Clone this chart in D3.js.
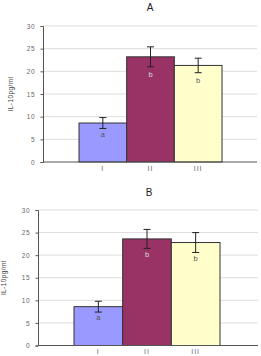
<!DOCTYPE html>
<html>
<head>
<meta charset="utf-8">
<script src="https://cdn.jsdelivr.net/npm/d3@7"></script>
<style>
  body { margin: 0; background: #fff; }
  svg { display: block; font-family: "Liberation Sans", Arial, sans-serif; }
</style>
</head>
<body>
<div id="chart"></div>
<script>
// Data
let groups = ["I", "II", "III"];
let colors = ["#9999ff", "#993366", "#ffffcc"];
let panelTitles = ["A", "B"];
let meansA = [8.6, 23.2, 21.3];
let errA = [1.2, 2.2, 1.6];
let lettersA = ["a", "b", "b"];
let letterPosA = [5.5, 18.7, 17.4];
let meansB = [8.6, 23.6, 22.8];
let errB = [1.2, 2.1, 2.2];
let lettersB = ["a", "b", "b"];
let letterPosB = [5.6, 19.7, 18.8];
let yTicks = [0, 5, 10, 15, 20, 25, 30];
let yLabel = "IL-10pg/ml";

let svg = d3.select("#chart").append("svg")
  .attr("width", 261)
  .attr("height", 356);

// one panel, positioned by its plot box
function drawPanel(p) {
  let g = svg.append("g");
  let x = d3.scaleLinear().domain([0, 3]).range([p.barLeft, p.barRight]);
  let y = d3.scaleLinear().domain([0, 30]).range([p.bottom, p.top]);

  // title
  g.append("text")
    .attr("x", p.titleX).attr("y", p.titleY)
    .attr("text-anchor", "middle")
    .attr("font-size", 10)
    .attr("fill", "#222")
    .text(p.title);

  // gridlines
  g.selectAll(".grid").data(yTicks.slice(1)).enter().append("line")
    .attr("x1", p.left).attr("x2", p.right)
    .attr("y1", d => y(d)).attr("y2", d => y(d))
    .attr("stroke", "#d4d4d4").attr("stroke-width", 0.8);

  // bars
  g.selectAll(".bar").data(p.means).enter().append("rect")
    .attr("x", (d, i) => x(i))
    .attr("y", d => y(d))
    .attr("width", (d, i) => x(i + 1) - x(i))
    .attr("height", d => y(0) - y(d))
    .attr("fill", (d, i) => colors[i])
    .attr("stroke", "#333").attr("stroke-width", 1);

  // error bars
  p.means.forEach((m, i) => {
    let cx = (x(i) + x(i + 1)) / 2;
    let e = p.err[i];
    g.append("line").attr("x1", cx).attr("x2", cx)
      .attr("y1", y(m + e)).attr("y2", y(m - e))
      .attr("stroke", "#222").attr("stroke-width", 1);
    [m + e, m - e].forEach(v => {
      g.append("line").attr("x1", cx - 3.5).attr("x2", cx + 3.5)
        .attr("y1", y(v)).attr("y2", y(v))
        .attr("stroke", "#222").attr("stroke-width", 1);
    });
    g.append("text")
      .attr("x", cx).attr("y", y(p.letterPos[i]))
      .attr("text-anchor", "middle")
      .attr("font-size", 7.5)
      .attr("fill", i === 1 ? "#ddd" : "#555")
      .text(p.letters[i]);
  });

  // axes
  let yAxis = d3.axisLeft(y).tickValues(yTicks).tickSize(2.5).tickPadding(5);
  let ya = g.append("g").attr("transform", "translate(" + p.left + ",0)").call(yAxis);
  ya.select(".domain").attr("stroke", "#555");
  ya.selectAll(".tick line").attr("stroke", "#555");
  ya.selectAll("text").attr("font-size", 6.5).attr("fill", "#666")
    .attr("letter-spacing", 0.8)
    .attr("font-family", "Liberation Sans, Arial, sans-serif");

  g.append("line")
    .attr("x1", p.left).attr("x2", p.right)
    .attr("y1", p.bottom).attr("y2", p.bottom)
    .attr("stroke", "#555");

  g.selectAll(".cat").data(groups).enter().append("text")
    .attr("x", (d, i) => (x(i) + x(i + 1)) / 2)
    .attr("y", p.bottom + 8.5)
    .attr("text-anchor", "middle")
    .attr("font-size", 7)
    .attr("letter-spacing", 1)
    .attr("fill", "#666")
    .text(d => d);

  // y label
  g.append("text")
    .attr("transform", "translate(" + p.labelX + "," + ((p.top + p.bottom) / 2) + ") rotate(-90)")
    .attr("text-anchor", "middle")
    .attr("font-size", 6.5)
    .attr("letter-spacing", 0.4)
    .attr("fill", "#444")
    .text(yLabel);
}

drawPanel({
  title: panelTitles[0], titleX: 150, titleY: 10.5,
  left: 43, right: 257, top: 26, bottom: 162,
  barLeft: 79, barRight: 222, labelX: 13,
  means: meansA, err: errA, letters: lettersA, letterPos: letterPosA
});

drawPanel({
  title: panelTitles[1], titleX: 149, titleY: 196,
  left: 38, right: 258, top: 210, bottom: 345.5,
  barLeft: 74, barRight: 220, labelX: 6,
  means: meansB, err: errB, letters: lettersB, letterPos: letterPosB
});
</script>
</body>
</html>
